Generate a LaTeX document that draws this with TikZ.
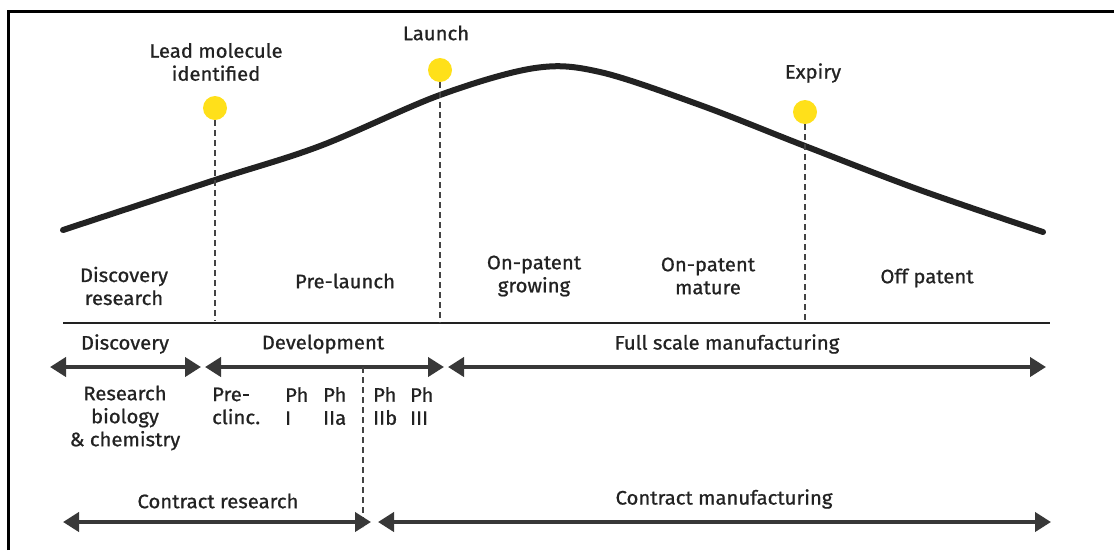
\documentclass[tikz,border=0pt]{standalone}
\usepackage{fontspec}
\setmainfont{Fira Sans}[FakeBold=0.9, FakeStretch=1.04]
\usetikzlibrary{arrows.meta}
\definecolor{ink}{HTML}{222222}
\definecolor{dotyellow}{HTML}{FFE01A}
\begin{document}
\begin{tikzpicture}[x=1pt,y=-1pt,
  lbl/.style={font=\fontsize{19.5}{23}\selectfont, text=ink, align=center, inner sep=0pt},
  lblleft/.style={lbl, align=left, anchor=west},
  milestone/.style={circle, fill=dotyellow, minimum size=24pt, inner sep=0pt},
  guide/.style={dash pattern=on 6pt off 4pt, line width=2pt, draw=ink!85},
  span/.style={line width=4.5pt, draw=ink!90,
    {Triangle[width=19pt,length=16pt]}-{Triangle[width=19pt,length=16pt]}},
]
\useasboundingbox (0,0) rectangle (1114,550);

% frame
\coordinate (fbl) at (8,550);
\coordinate (ftl) at (8,11);
\coordinate (ftr) at (1114,11);
\draw[line width=3pt] (fbl) -- (ftl) -- (ftr);

% life-cycle curve
\draw[line width=6pt, ink, line cap=round]
  plot[smooth, tension=0.55] coordinates {
    (63,230) (215,180) (320,146) (440,95) (535,68) (600,72)
    (700,105) (805,146) (920,190) (1043,232)};

% milestones
\node[milestone] (lead) at (215,108) {};
\node[milestone] (launch) at (440,70) {};
\node[milestone] (expiry) at (805,112) {};
\node[lbl] (leadtxt) at (216,62) {Lead molecule\\identified};
\node[lbl] (launchtxt) at (436,33) {Launch};
\node[lbl] (expirytxt) at (813,73) {Expiry};

% baseline
\coordinate (baseL) at (63,323);
\coordinate (baseR) at (1050,323);
\draw[line width=1.5pt, ink] (baseL) -- (baseR);

\coordinate (leadfoot) at (215,321);
\coordinate (launchfoot) at (440,323);
\coordinate (expiryfoot) at (805,321);
\draw[guide] (lead.south) -- (leadfoot);
\draw[guide] (launch.south) -- (launchfoot);
\draw[guide] (expiry.south) -- (expiryfoot);

% phase labels above baseline
\node[lbl] (disc) at (124,286) {Discovery\\research};
\node[lbl] (prel) at (345,281) {Pre-launch};
\node[lbl] (grow) at (534,276) {On-patent\\growing};
\node[lbl] (mat) at (708,276) {On-patent\\mature};
\node[lbl] (off) at (927,278) {Off patent};

% activity spans
\node[lbl] (discH) at (125,344) {Discovery};
\node[lbl] (devH) at (323,344) {Development};
\node[lbl] (fullH) at (727,344) {Full scale manufacturing};
\coordinate (d1) at (50,367);  \coordinate (d2) at (201,367);
\coordinate (v1) at (205,367); \coordinate (v2) at (444,367);
\coordinate (m1) at (448,367); \coordinate (m2) at (1046,367);
\draw[span] (d1) -- (d2);
\draw[span] (v1) -- (v2);
\draw[span] (m1) -- (m2);

\node[lbl] (rbc) at (125,418) {Research\\biology\\\& chemistry};
\node[lblleft] (pre) at (212,406) {Pre-\\clinc.};
\node[lblleft] (ph1) at (285,406) {Ph\\I};
\node[lblleft] (ph2a) at (323,406) {Ph\\IIa};
\node[lblleft] (ph2b) at (373,406) {Ph\\IIb};
\node[lblleft] (ph3) at (410,406) {Ph\\III};

\coordinate (splitTop) at (363,367);
\coordinate (splitBot) at (363,527);
\draw[guide] (splitTop) -- (splitBot);

% contract services
\node[lbl] (cr) at (218,501) {Contract research};
\node[lbl] (cm) at (724,499) {Contract manufacturing};
\coordinate (c1) at (63,522);  \coordinate (c2) at (371,522);
\coordinate (c3) at (378,522); \coordinate (c4) at (1051,522);
\draw[span] (c1) -- (c2);
\draw[span] (c3) -- (c4);
\end{tikzpicture}
\end{document}
